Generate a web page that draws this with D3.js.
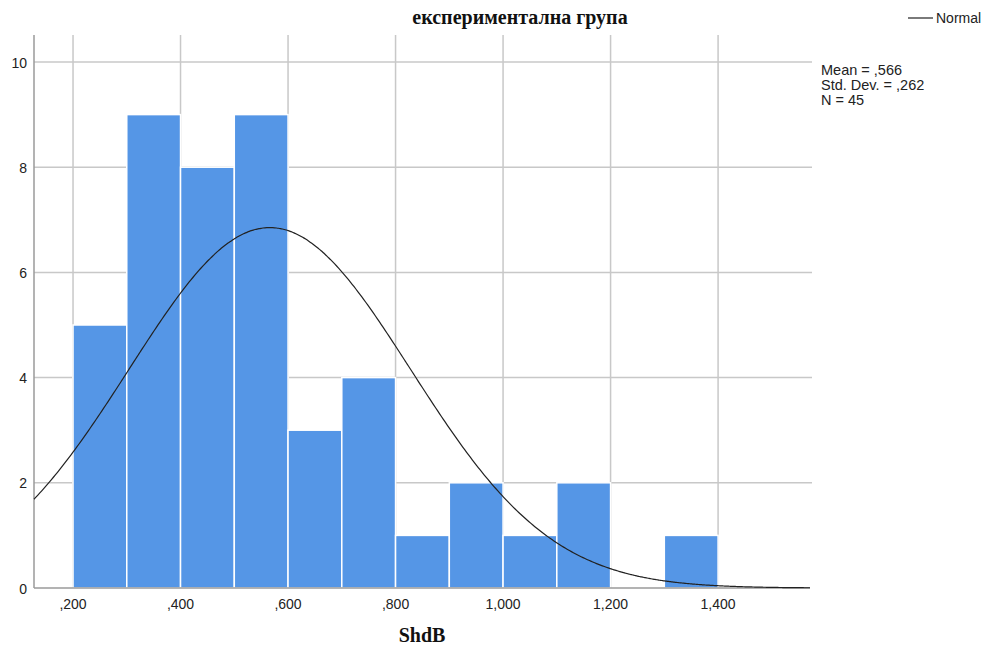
<!DOCTYPE html>
<html>
<head>
<meta charset="utf-8">
<script src="https://cdn.jsdelivr.net/npm/d3@7"></script>
<style>
  html, body { margin: 0; padding: 0; background: #fff; }
  svg { display: block; }
</style>
</head>
<body>
<svg id="chart" width="982" height="647"></svg>
<script>
// Histogram bins of ShdB (lower edge and count per bin)
const binStarts = [0.2, 0.3, 0.4, 0.5, 0.6, 0.7, 0.8, 0.9, 1.0, 1.1, 1.2, 1.3];
const binWidth = 0.1;
const counts = [5, 9, 8, 9, 3, 4, 1, 2, 1, 2, 0, 1];

// Summary statistics
const mean = 0.566;
const stdDev = 0.262;
const n = 45;

const xTicks = [0.2, 0.4, 0.6, 0.8, 1.0, 1.2, 1.4];
const yTicks = [0, 2, 4, 6, 8, 10];

const titleText = "експериментална група";
const xLabel = "ShdB";

const svg = d3.select("#chart");

const plotLeft = 34, plotRight = 810, plotTop = 35, plotBottom = 588;

const x = d3.scaleLinear().domain([0.1274, 1.571]).range([plotLeft, plotRight]);
const y = d3.scaleLinear().domain([0, 10]).range([plotBottom, 62]);

const gridColor = "#c8c8c8";
const sans = "Liberation Sans, Arial, sans-serif";
const serif = "Liberation Serif, Times New Roman, serif";

// Gridlines
svg.append("g").selectAll("line").data(xTicks).join("line")
  .attr("x1", d => x(d)).attr("x2", d => x(d))
  .attr("y1", plotTop).attr("y2", plotBottom)
  .attr("stroke", gridColor).attr("stroke-width", 1.5);

svg.append("g").selectAll("line").data(yTicks.filter(d => d > 0)).join("line")
  .attr("x1", plotLeft).attr("x2", plotRight + 2)
  .attr("y1", d => y(d)).attr("y2", d => y(d))
  .attr("stroke", gridColor).attr("stroke-width", 1.5);

// Bars
svg.append("g").selectAll("rect").data(binStarts.map((s, i) => ({ s, c: counts[i] })).filter(d => d.c > 0))
  .join("rect")
  .attr("x", d => x(d.s))
  .attr("width", d => x(d.s + binWidth) - x(d.s))
  .attr("y", d => y(d.c))
  .attr("height", d => y(0) - y(d.c))
  .attr("fill", "#5596e6")
  .attr("stroke", "#ffffff")
  .attr("stroke-width", 1.5);

// Axis lines
svg.append("line").attr("x1", plotLeft).attr("x2", plotLeft).attr("y1", plotTop).attr("y2", plotBottom)
  .attr("stroke", "#9a9a9a").attr("stroke-width", 1.5);
svg.append("line").attr("x1", plotLeft).attr("x2", plotRight).attr("y1", plotBottom).attr("y2", plotBottom)
  .attr("stroke", "#9a9a9a").attr("stroke-width", 1.5);

// Normal curve scaled to counts
const scaleFactor = n * binWidth / (stdDev * Math.sqrt(2 * Math.PI));
const curvePts = d3.range(0, 401).map(i => {
  const v = x.domain()[0] + (x.domain()[1] - x.domain()[0]) * i / 400;
  const z = (v - mean) / stdDev;
  return [v, scaleFactor * Math.exp(-0.5 * z * z)];
});
svg.append("path")
  .attr("d", d3.line().x(d => x(d[0])).y(d => y(d[1])).curve(d3.curveBasis)(curvePts))
  .attr("fill", "none").attr("stroke", "#222").attr("stroke-width", 1.2);

// Tick labels (comma decimal separator, no leading zero)
const fmt = v => {
  const s = v.toFixed(3).replace(".", ",");
  return s.startsWith("0") ? s.slice(1) : s;
};
svg.append("g").selectAll("text").data(xTicks).join("text")
  .attr("x", d => x(d)).attr("y", 609)
  .attr("text-anchor", "middle")
  .attr("font-family", sans).attr("font-size", 14)
  .attr("fill", "#222")
  .text(fmt);

svg.append("g").selectAll("text").data(yTicks).join("text")
  .attr("x", 27).attr("y", d => y(d) + 5.5)
  .attr("text-anchor", "end")
  .attr("font-family", sans).attr("font-size", 14)
  .attr("fill", "#222")
  .text(d => d);

// Title and axis label
svg.append("text").attr("x", 520).attr("y", 24).attr("text-anchor", "middle")
  .attr("font-family", serif).attr("font-weight", "bold").attr("font-size", 20)
  .attr("fill", "#111").text(titleText);

svg.append("text").attr("x", 422).attr("y", 642).attr("text-anchor", "middle")
  .attr("font-family", serif).attr("font-weight", "bold").attr("font-size", 20)
  .attr("fill", "#111").text(xLabel);

// Legend
svg.append("line").attr("x1", 908).attr("x2", 933).attr("y1", 18).attr("y2", 18)
  .attr("stroke", "#222").attr("stroke-width", 1.2);
svg.append("text").attr("x", 936).attr("y", 23)
  .attr("font-family", sans).attr("font-size", 14)
  .attr("fill", "#222").text("Normal");

// Statistics
const statLines = [
  "Mean = " + fmt(mean),
  "Std. Dev. = " + fmt(stdDev),
  "N = " + n
];
svg.append("g").selectAll("text").data(statLines).join("text")
  .attr("x", 821).attr("y", (d, i) => 75 + i * 15)
  .attr("font-family", sans).attr("font-size", 14.5)
  .attr("fill", "#222").text(d => d);
</script>
</body>
</html>
